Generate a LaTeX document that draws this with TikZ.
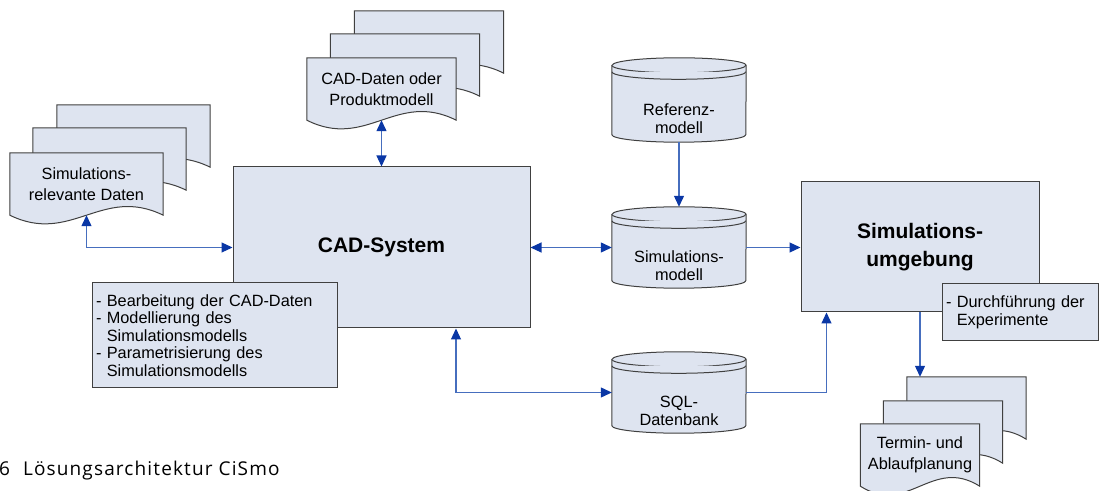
\documentclass[tikz,border=0pt]{standalone}
\usepackage{fontspec}
\setmainfont{Liberation Sans}
\newfontfamily\capfont[LetterSpace=6]{Open Sans}
\usetikzlibrary{arrows.meta,calc,backgrounds}

\definecolor{boxfill}{RGB}{222,228,240}
\definecolor{linkblue}{RGB}{70,110,190}
\definecolor{tipblue}{RGB}{10,55,165}

\newcommand{\diagtxt}{\fontsize{16.3}{17.6}\selectfont}
\newcommand{\diagbig}{\fontsize{21}{28.5}\selectfont\bfseries}

% Blatt mit gewelltem Unterrand
\newcommand{\sheetshape}[1]{%
  \filldraw[shapeline] (#1.north west) -- (#1.north east) -- (#1.south east)
    .. controls ($(#1.south east)!0.4!(#1.south west)+(0,30)$)
           and ($(#1.south east)!0.6!(#1.south west)+(0,-30)$) .. (#1.south west)
    -- cycle;}
% Datenbank-Trommel
\newcommand{\drumshape}[1]{%
  \filldraw[shapeline] ([yshift=-7.5pt]#1.north west) -- ([yshift=7.5pt]#1.south west)
    arc[start angle=180, end angle=360, x radius=67pt, y radius=7.5pt]
    -- ([yshift=-7.5pt]#1.north east)
    arc[start angle=0, end angle=180, x radius=67pt, y radius=7.5pt] -- cycle;
  \draw[shapeline] ([yshift=-7.5pt]#1.north west)
    arc[start angle=180, end angle=360, x radius=67pt, y radius=7.5pt];
  \draw[shapeline] ([yshift=-14pt]#1.north west)
    arc[start angle=180, end angle=360, x radius=67pt, y radius=7.5pt];}

\begin{document}
\begin{tikzpicture}[x=1pt, y=1pt,
    shapeline/.style = {draw=black!75, line width=1pt, fill=boxfill},
    box/.style       = {rectangle, draw=black!75, line width=1pt, fill=boxfill,
                        inner sep=0pt, align=center, font=\diagbig},
    note/.style      = {rectangle, draw=black!75, line width=1pt, fill=boxfill,
                        inner sep=4pt, align=left, font=\diagtxt},
    sheet/.style     = {rectangle, minimum width=#1, minimum height=62pt,
                        inner sep=0pt, align=center,
                        font=\fontsize{16.3}{20.5}\selectfont},
    sheet/.default   = 153pt,
    drum/.style      = {rectangle, minimum width=134pt, minimum height=#1,
                        inner sep=0pt},
    drum/.default    = 81pt,
    drumtxt/.style   = {align=center, inner sep=0pt,
                        font=\fontsize{16.3}{18}\selectfont},
    link/.style      = {draw=linkblue, line width=1.2pt},
    >={Triangle[length=11pt, width=10pt, color=tipblue]}
  ]
  \useasboundingbox (0,0) rectangle (1100,490);

  % Dokumentstapel
  \node[sheet] (simdocC) at (133.5,354) {};
  \node[sheet] (simdocB) at (109.5,331) {};
  \node[sheet] (simdoc)  at (86.5,306)  {Simulations-\\relevante Daten};
  \node[sheet=149pt] (caddocC) at (429,448)   {};
  \node[sheet=149pt] (caddocB) at (405,425)   {};
  \node[sheet=149pt] (caddoc)  at (381.5,401) {CAD-Daten oder\\Produktmodell};
  \node[sheet=119pt] (plandocC) at (966.5,82) {};
  \node[sheet=119pt] (plandocB) at (943,58)   {};
  \node[sheet=119pt] (plandoc)  at (920,35)   {Termin- und\\Ablaufplanung};

  % Datenbanken
  \node[drum=84pt] (refmod) at (679,390)   {};
  \node[drum]      (simmod) at (679,242.5) {};
  \node[drum]      (sqldb)  at (679,97.5)  {};
  \node[drumtxt] (refmodtxt) at ($(refmod)+(0,-19)$) {Referenz-\\modell};
  \node[drumtxt] (simmodtxt) at ($(simmod)+(0,-18)$) {Simulations-\\modell};
  \node[drumtxt] (sqldbtxt)  at ($(sqldb)+(0,-18)$)  {SQL-\\Datenbank};

  \begin{scope}[on background layer]
    \foreach \n in {simdocC,simdocB,simdoc,caddocC,caddocB,caddoc,
                    plandocC,plandocB,plandoc}
      {\sheetshape{\n}}
    \foreach \n in {refmod,simmod,sqldb}
      {\drumshape{\n}}
  \end{scope}

  % Systeme
  \node[box, minimum width=297pt, minimum height=161pt] (cad)
    at (381.5,242.5) {CAD-System};
  \node[box, minimum width=238pt, minimum height=130pt] (simenv)
    at (920,243) {Simulations-\\umgebung};
  \node[note, text width=237pt, minimum height=105pt] (cadnote) at (214.5,154.5)
    {- Bearbeitung der CAD-Daten\\
     - Modellierung des\\
     \hphantom{- }Simulationsmodells\\
     - Parametrisierung des\\
     \hphantom{- }Simulationsmodells};
  \node[note, text width=148pt, minimum height=57pt] (envnote) at (1020,177.5)
    {- Durchführung der\\\hphantom{- }Experimente};

  % Verbindungen
  \draw[link, <->] (simdoc.south) |- (cad.west);
  \draw[link, <->] (caddoc.south) -- (cad.north);
  \draw[link, <->] (cad.east) -- (simmod.west);
  \draw[link, ->]  (refmod.south) -- (simmod.north);
  \draw[link, ->]  (simmod.east) -- (simmod.east -| simenv.west);
  \draw[link, <->] ($(cad.south west)!0.75!(cad.south east)$) |- (sqldb.west);
  \draw[link, ->]  (sqldb.east) -| ([xshift=26pt]simenv.south west);
  \draw[link, ->]  (simenv.south) -- (simenv.south |- plandocC.north);

  \node[anchor=base west, inner sep=0pt, font=\capfont\fontsize{19}{22}\selectfont]
    (caption) at (-1,15) {6\hspace{13pt}Lösungsarchitektur CiSmo};
\end{tikzpicture}
\end{document}
